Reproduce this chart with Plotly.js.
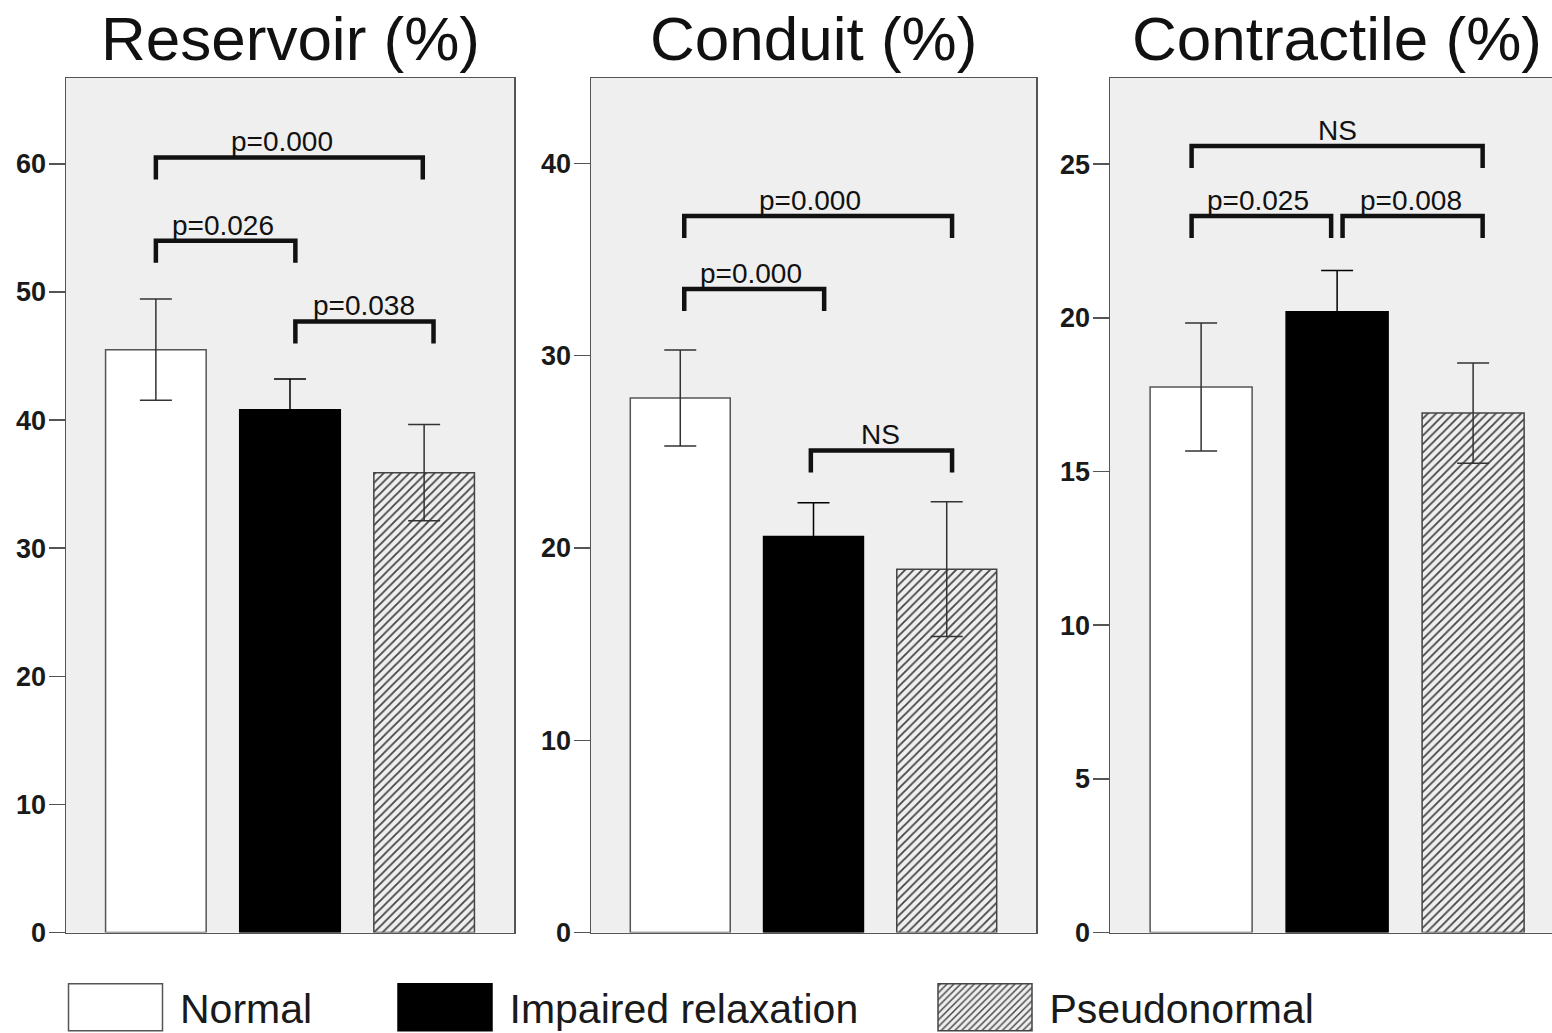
<!DOCTYPE html>
<html>
<head>
<meta charset="utf-8">
<script src="https://cdn.plot.ly/plotly-3.0.1.min.js"></script>
<style>html,body{margin:0;padding:0;background:#fff;}#chart{width:1552px;height:1033px;}</style>
</head>
<body>
<div id="chart"></div>
<script>
// ---------- data ----------
const groups = ['Normal', 'Impaired relaxation', 'Pseudonormal'];
const panelTitles = ['Reservoir (%)', 'Conduit (%)', 'Contractile (%)'];

const reservoirMean = [45.5, 40.8, 35.9];
const reservoirErr = [3.95, 2.4, 3.75];
const conduitMean = [27.8, 20.6, 18.9];
const conduitErr = [2.5, 1.75, 3.5];
const contractileMean = [17.75, 20.2, 16.9];
const contractileErr = [2.08, 1.34, 1.63];

const reservoirTicks = [0, 10, 20, 30, 40, 50, 60];
const conduitTicks = [0, 10, 20, 30, 40];
const contractileTicks = [0, 5, 10, 15, 20, 25];

// significance brackets (x in group-index units, y in axis units)
const reservoirBracketFrom = [0.0, 0.0, 1.04];
const reservoirBracketTo = [1.99, 1.04, 2.07];
const reservoirBracketY = [60.5, 54.0, 47.7];
const reservoirBracketText = ['p=0.000', 'p=0.026', 'p=0.038'];
const reservoirLabelX = [0.94, 0.5, 1.55];

const conduitBracketFrom = [0.03, 0.03, 0.98];
const conduitBracketTo = [2.04, 1.08, 2.04];
const conduitBracketY = [37.27, 33.47, 25.07];
const conduitBracketText = ['p=0.000', 'p=0.000', 'NS'];
const conduitLabelX = [0.97, 0.53, 1.5];

const contractileBracketFrom = [-0.07, -0.07, 1.04];
const contractileBracketTo = [2.07, 0.956, 2.07];
const contractileBracketY = [25.59, 23.31, 23.31];
const contractileBracketText = ['NS', 'p=0.025', 'p=0.008'];
const contractileLabelX = [1.0, 0.42, 1.54];

// ---------- style ----------
const W = 1552, H = 1033;
const FONT = 'Liberation Sans, Arial, Helvetica, sans-serif';
const yDom = [(H - 932.6) / H, (H - 78) / H];
const xDoms = [[66 / W, 514 / W], [591 / W, 1036 / W], [1110 / W, 1.0]];
const xRanges = [[-0.67, 2.67], [-0.67, 2.67], [-0.67, 2.58]];
const yRanges = [[0, 66.7], [0, 44.44], [0, 27.8]];
const legPx = 22;

const barStyles = [
  {color: '#ffffff', line: {color: '#555', width: 1.5}},
  {color: '#000000', line: {color: '#000', width: 1.5}},
  {color: '#efefef', line: {color: '#444', width: 1.5},
   pattern: {shape: '/', fgcolor: '#444', bgcolor: '#efefef', size: 6, solidity: 0.3}}
];
const errColors = ['#333', '#000', '#333'];
const legendIds = ['legend', 'legend2', 'legend3'];

const panels = [
  {mean: reservoirMean, err: reservoirErr, ticks: reservoirTicks,
   bf: reservoirBracketFrom, bt: reservoirBracketTo, by: reservoirBracketY, btxt: reservoirBracketText, lx: reservoirLabelX},
  {mean: conduitMean, err: conduitErr, ticks: conduitTicks,
   bf: conduitBracketFrom, bt: conduitBracketTo, by: conduitBracketY, btxt: conduitBracketText, lx: conduitLabelX},
  {mean: contractileMean, err: contractileErr, ticks: contractileTicks,
   bf: contractileBracketFrom, bt: contractileBracketTo, by: contractileBracketY, btxt: contractileBracketText, lx: contractileLabelX}
];

const traces = [];
const annotations = [];
const layout = {
  width: W, height: H,
  margin: {l: 0, r: 0, t: 0, b: 0, autoexpand: false},
  paper_bgcolor: '#ffffff',
  plot_bgcolor: '#efefef',
  barmode: 'overlay',
  font: {family: FONT, color: '#111'},
  annotations: annotations
};

panels.forEach((p, k) => {
  const sfx = k === 0 ? '' : String(k + 1);
  const xa = 'x' + sfx, ya = 'y' + sfx;
  layout['xaxis' + sfx] = {
    domain: xDoms[k], range: xRanges[k], anchor: ya,
    showticklabels: false, ticks: '', showgrid: false, zeroline: false,
    showline: true, mirror: true, linecolor: '#555', linewidth: 1.5, fixedrange: true
  };
  layout['yaxis' + sfx] = {
    domain: yDom, range: yRanges[k], anchor: xa,
    tickmode: 'array', tickvals: p.ticks, ticktext: p.ticks.map(String),
    ticks: 'outside', ticklen: 16, tickwidth: 1.5, tickcolor: '#555',
    ticklabelstandoff: -3,
    tickfont: {family: FONT, size: 27, weight: 'bold', color: '#1a1a1a'},
    showgrid: false, zeroline: false,
    showline: true, mirror: k < 2, linecolor: '#555', linewidth: 1.5, fixedrange: true
  };

  groups.forEach((g, i) => {
    traces.push({
      type: 'bar', name: g, x: [i], y: [p.mean[i]], width: 0.75,
      xaxis: xa, yaxis: ya,
      marker: barStyles[i],
      error_y: {type: 'data', array: [p.err[i]], visible: true, color: errColors[i], thickness: 1.5, width: 16},
      showlegend: k === 0, legend: legendIds[i], hoverinfo: 'skip'
    });
  });

  const plotH = (yDom[1] - yDom[0]) * H;
  const leg = legPx * (yRanges[k][1] - yRanges[k][0]) / plotH;
  p.by.forEach((yv, j) => {
    traces.push({
      type: 'scatter', mode: 'lines', xaxis: xa, yaxis: ya,
      x: [p.bf[j], p.bf[j], p.bt[j], p.bt[j]],
      y: [yv - leg, yv, yv, yv - leg],
      line: {color: '#111', width: 4.5},
      showlegend: false, hoverinfo: 'skip'
    });
    annotations.push({
      xref: xa, yref: ya, x: p.lx[j], y: yv, yanchor: 'bottom', xanchor: 'center',
      text: p.btxt[j], showarrow: false, yshift: -2,
      font: {family: FONT, size: 28, color: '#111'}
    });
  });

  annotations.push({
    xref: xa, yref: 'paper', x: 1, y: (H - 39) / H, yanchor: 'middle', xanchor: 'center',
    text: panelTitles[k], showarrow: false,
    font: {family: FONT, size: 62, color: '#111'}
  });
});

const legendBoxCenter = [115.5, 445, 985];
const legItemW = 119;
legendIds.forEach((id, i) => {
  layout[id] = {
    xref: 'paper', yref: 'paper',
    x: (legendBoxCenter[i] - 5 - legItemW / 2) / W, y: (H - 1007.5) / H, xanchor: 'left', yanchor: 'middle',
    orientation: 'h', bgcolor: 'rgba(0,0,0,0)', borderwidth: 0, itemwidth: legItemW,
    font: {family: FONT, size: 41, color: '#1a1a1a'}
  };
});

Plotly.newPlot('chart', traces, layout, {staticPlot: true, displayModeBar: false}).then(() => {
  document.querySelectorAll('.legendpoints path').forEach(el => {
    el.setAttribute('d', 'M47,23.5H-47V-23.5H47Z');
  });
});
</script>
</body>
</html>
